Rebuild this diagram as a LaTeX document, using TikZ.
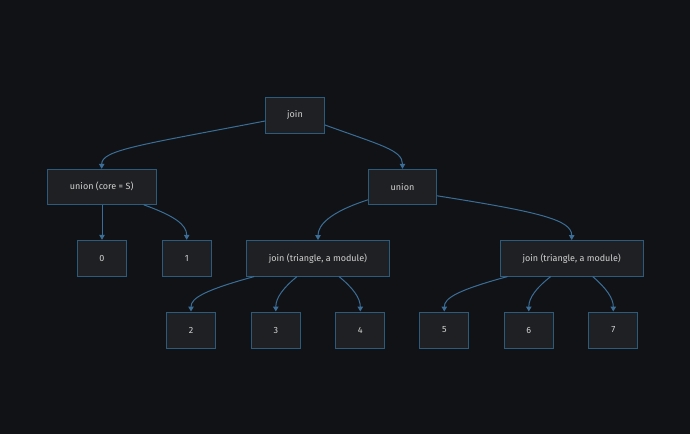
\documentclass[tikz,border=0pt]{standalone}
\usepackage{fontspec}
\setmainfont{Fira Sans}
\usetikzlibrary{arrows.meta}
\definecolor{bgc}{HTML}{111215}
\definecolor{fillc}{HTML}{1F2023}
\definecolor{borderc}{HTML}{2D5B7E}
\definecolor{edgec}{HTML}{3A6E98}
\definecolor{textc}{HTML}{D2D2D2}
\begin{document}
\begin{tikzpicture}[x=1pt,y=-1pt,
  box/.style={draw=borderc,fill=fillc,line width=1pt,text=textc,inner sep=0pt,
    font=\fontsize{9}{11}\selectfont},
  edge/.style={draw=edgec,line width=1pt,-{Triangle[length=5pt,width=5.5pt]}}]
\fill[bgc] (0,0) rectangle (690,434);
\useasboundingbox (0,0) rectangle (690,434);
\node[box,minimum width=59pt,minimum height=36pt] (j) at (295,115) {join};
\node[box,minimum width=109pt,minimum height=35pt] (ul) at (101.7,186.8) {union (core = S)};
\node[box,minimum width=68pt,minimum height=35pt] (ur) at (402.5,186.8) {union};
\node[box,minimum width=49pt,minimum height=36pt] (n0) at (102,258.3) {0};
\node[box,minimum width=49pt,minimum height=36pt] (n1) at (186.7,258.3) {1};
\node[box,minimum width=142.6pt,minimum height=35.5pt] (jl) at (318,258.3) {join (triangle, a module)};
\node[box,minimum width=143.3pt,minimum height=35.5pt] (jr) at (571.7,258.3) {join (triangle, a module)};
\node[box,minimum width=49pt,minimum height=36pt] (n2) at (191,330) {2};
\node[box,minimum width=49pt,minimum height=36pt] (n3) at (275.8,330) {3};
\node[box,minimum width=49pt,minimum height=36pt] (n4) at (360.3,330) {4};
\node[box,minimum width=49pt,minimum height=36pt] (n5) at (444.3,330) {5};
\node[box,minimum width=49pt,minimum height=36pt] (n6) at (528.8,330) {6};
\node[box,minimum width=49pt,minimum height=36pt] (n7) at (613.3,330) {7};
% edges
\draw[edge] ([yshift=-6pt]j.west) .. controls (140,145) and (101.7,150) .. (ul.north);
\draw[edge] ([yshift=-10pt]j.east) .. controls (380,145) and (402.5,150) .. (ur.north);
\draw[edge] (n0.north |- ul.south) -- (n0.north);
\draw[edge] ([xshift=-13pt]ul.south east) .. controls (175,216) and (186.7,225) .. (n1.north);
\draw[edge] ([yshift=5pt]ur.south west) .. controls (330,212) and (318,225) .. (jl.north);
\draw[edge] ([yshift=-9pt]ur.east) .. controls (540,212) and (571.7,220) .. (jr.north);
\draw[edge] ([xshift=8pt]jl.south west) .. controls (205,290) and (191,298) .. (n2.north);
\draw[edge] ([xshift=-21pt]jl.south) .. controls (283,288) and (275.8,298) .. (n3.north);
\draw[edge] ([xshift=21pt]jl.south) .. controls (353,288) and (360.3,298) .. (n4.north);
\draw[edge] ([xshift=8pt]jr.south west) .. controls (458,290) and (444.3,298) .. (n5.north);
\draw[edge] ([xshift=-21pt]jr.south) .. controls (536,288) and (528.8,298) .. (n6.north);
\draw[edge] ([xshift=21pt]jr.south) .. controls (606,288) and (613.3,298) .. (n7.north);
\end{tikzpicture}
\end{document}
